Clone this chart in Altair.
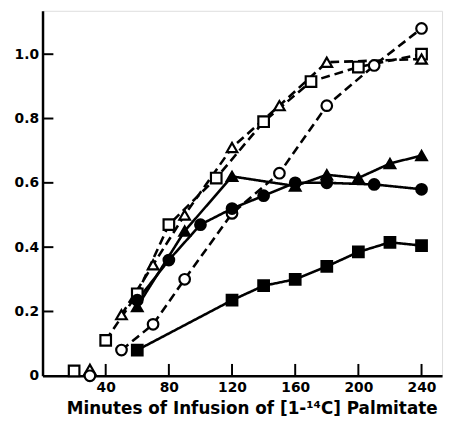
import altair as alt
import pandas as pd

# ---- data ----
open_sq_x = [20, 40, 60, 80, 110, 140, 170, 200, 240]
open_sq_y = [0.015, 0.11, 0.255, 0.47, 0.615, 0.79, 0.915, 0.96, 1.0]
open_tri_x = [30, 50, 70, 90, 120, 150, 180, 240]
open_tri_y = [0.02, 0.19, 0.345, 0.50, 0.71, 0.84, 0.975, 0.985]
open_circ_x = [30, 50, 70, 90, 120, 150, 180, 210, 240]
open_circ_y = [0.0, 0.08, 0.16, 0.30, 0.505, 0.63, 0.84, 0.965, 1.08]
fill_tri_x = [60, 90, 120, 160, 180, 200, 220, 240]
fill_tri_y = [0.215, 0.45, 0.62, 0.59, 0.625, 0.615, 0.66, 0.685]
fill_circ_x = [60, 80, 100, 120, 140, 160, 180, 210, 240]
fill_circ_y = [0.235, 0.36, 0.47, 0.52, 0.56, 0.60, 0.60, 0.595, 0.58]
fill_sq_x = [60, 120, 140, 160, 180, 200, 220, 240]
fill_sq_y = [0.08, 0.235, 0.28, 0.30, 0.34, 0.385, 0.415, 0.405]

# first point of the open series is not joined to the rest
unjoined_first = {"open_sq", "open_tri", "open_circ"}

x_ticks = [40, 80, 120, 160, 200, 240]
y_ticks = [0.2, 0.4, 0.6, 0.8, 1.0]
y_labels = [0, 0.2, 0.4, 0.6, 0.8, 1.0]
x_title = "Minutes of Infusion of  [1-¹⁴C] Palmitate"

series = {
    "open_sq": (open_sq_x, open_sq_y, "square", "open", "dash"),
    "open_tri": (open_tri_x, open_tri_y, "triangle-up", "open", "dash"),
    "open_circ": (open_circ_x, open_circ_y, "circle", "open", "dash"),
    "fill_tri": (fill_tri_x, fill_tri_y, "triangle-up", "filled", "solid"),
    "fill_circ": (fill_circ_x, fill_circ_y, "circle", "filled", "solid"),
    "fill_sq": (fill_sq_x, fill_sq_y, "square", "filled", "solid"),
}

rows = []
for name, (xs, ys, shape, fill, dash) in series.items():
    for i, (xv, yv) in enumerate(zip(xs, ys)):
        seg = name + ("_0" if (i == 0 and name in unjoined_first) else "_1")
        rows.append({"series": name, "x": xv, "y": yv, "seg": seg,
                     "shape": shape, "fill": fill, "dash": dash})
df = pd.DataFrame(rows)

W, H = 405, 370
FONT = "DejaVu Sans"

xscale = alt.Scale(domain=[0, 253], nice=False, zero=False)
yscale = alt.Scale(domain=[0, 1.135], nice=False, zero=True)

x_enc = alt.X("x:Q", scale=xscale, axis=alt.Axis(
    values=x_ticks, ticks=False, tickSize=0, grid=False, domainColor="black",
    domainWidth=2.5, labelFont=FONT, labelFontSize=14, labelFontWeight="bold",
    labelColor="black", labelPadding=5, title=x_title, titleFont=FONT,
    titleFontSize=17, titleFontWeight="bold", titleColor="black",
    titlePadding=6, titleX=212, titleAlign="center"))
y_enc = alt.Y("y:Q", scale=yscale, axis=alt.Axis(
    values=y_labels, ticks=False, tickSize=0, grid=False, domainColor="black",
    domainWidth=2.5, labelFont=FONT, labelFontSize=14, labelFontWeight="bold",
    labelColor="black", labelPadding=4, title=None, minExtent=30, maxExtent=30,
    labelExpr="datum.value == 0 ? '0' : format(datum.value, '.1f')"))

lines = alt.Chart(df).mark_line(color="black", strokeWidth=2.6).encode(
    x=x_enc, y=y_enc, detail="seg:N",
    strokeDash=alt.StrokeDash("dash:N", scale=alt.Scale(
        domain=["dash", "solid"], range=[[9, 5], [1, 0]]), legend=None),
    order="x:Q",
)

points = alt.Chart(df).mark_point(stroke="black", strokeWidth=2.2, size=115,
                                  opacity=1, filled=False).encode(
    x="x:Q", y="y:Q",
    shape=alt.Shape("shape:N", scale=None),
    fill=alt.Fill("fill:N", scale=alt.Scale(domain=["open", "filled"],
                                             range=["white", "black"]), legend=None),
)

ytick_df = pd.DataFrame({"v": y_ticks})
xtick_df = pd.DataFrame({"v": x_ticks})
yticks = alt.Chart(ytick_df).mark_rule(color="black", strokeWidth=2).encode(
    y=alt.Y("v:Q", scale=yscale), x=alt.value(0), x2=alt.value(11))
xticks = alt.Chart(xtick_df).mark_rule(color="black", strokeWidth=2).encode(
    x=alt.X("v:Q", scale=xscale), y=alt.value(H), y2=alt.value(H - 12))

chart = alt.layer(lines, yticks, xticks, points).properties(
    width=W, height=H,
    padding={"left": 5, "top": 0, "right": 5, "bottom": 2},
).configure_view(stroke=None).configure(background="white")

chart.save("out.html", embed_options={"renderer": "svg", "actions": False})
